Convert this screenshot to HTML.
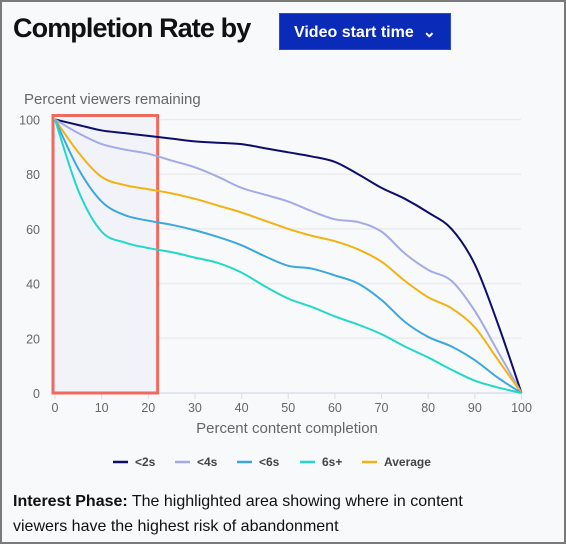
<!DOCTYPE html>
<html><head><meta charset="utf-8"><style>
html,body{margin:0;padding:0;}
body{width:566px;height:544px;overflow:hidden;background:#f8f9fa;font-family:"Liberation Sans",sans-serif;}
#frame{position:absolute;left:0;top:0;width:562px;height:540px;border:2px solid #7a7a7a;background:#f8f9fa;}
#title{position:absolute;left:11px;top:11px;font-size:27px;font-weight:bold;color:#111;letter-spacing:-0.9px;}
#btn{position:absolute;left:277px;top:11px;width:172px;height:37px;background:#0a2bb8;color:#fff;font-size:16px;font-weight:bold;line-height:37px;text-align:center;border:1px solid #2a4ad0;box-sizing:border-box;}
#foot{position:absolute;left:11px;top:487px;font-size:16px;line-height:25px;color:#111;width:475px;}
svg{position:absolute;left:-2px;top:-2px;}
</style></head><body>
<div id="frame">
<div id="title">Completion Rate by</div>
<div id="btn">Video start time &nbsp;⌄</div>
<svg id="chart" width="566" height="544"></svg>
<div id="foot"><b>Interest Phase:</b> The highlighted area showing where in content viewers have the highest risk of abandonment</div>
</div>
<script>
const xTicks=[0,10,20,30,40,50,60,70,80,90,100];
const yTicks=[0,20,40,60,80,100];
const xs=[0,5,10,15,20,25,30,35,40,45,50,55,60,65,70,75,80,85,90,95,100];
const s2=[100,98,96,95,94,93,92,91.5,91,89.5,88,86.5,84.5,80,75,71,66,60,47,25,0];
const s4=[100,95,91,89,87.5,85,82.5,79,75,72.5,70,66.5,63.5,62.5,59,51,45,41,30,15,0];
const s6=[100,82,70,65,63,61.5,59.5,57,54,50,46.5,45.5,43,40,34,26,20.5,17,12,5.5,0];
const s6p=[100,74,59,55,53,51.5,49.5,47.5,44,39,34.5,31.5,28,25,21.5,17,13,8.5,4.5,2,0];
const avg=[100,88,79,76,74.5,73,71,68.5,66,63,60,57.5,55.5,52.5,48,41,35,31,24,12,0];
const names=["<2s","<4s","<6s","6s+","Average"];
const colors=["#0d0d6e","#a3aae8","#3aa8e0","#22d8c8","#f2b312"];
const series=[s2,s4,s6,s6p,avg];
const highlight=[0,22];
const svg=document.getElementById('chart');
const NS='http://www.w3.org/2000/svg';
const X=v=>55+v*4.665, Y=v=>393-v*2.735;
function mk(t,a,p){const e=document.createElementNS(NS,t);for(const k in a)e.setAttribute(k,a[k]);(p||svg).appendChild(e);return e;}
let t=mk('text',{x:24,y:104,'font-size':15,fill:'#666'});t.textContent='Percent viewers remaining';


yTicks.forEach(v=>{
 const l=mk('line',{x1:53,x2:521,y1:Y(v),y2:Y(v),stroke:v?'#ececee':'#dde',"stroke-width":1.5});
 
 
 const tx=mk('text',{x:40,y:Y(v)+5,'text-anchor':'end','font-size':12.5,fill:'#666'});tx.textContent=v;
 
 
});
xTicks.forEach(v=>{
 mk('line',{x1:X(v),x2:X(v),y1:393,y2:399,stroke:'#dde'});
 const tx=mk('text',{x:X(v),y:412,'text-anchor':'middle','font-size':12.5,fill:'#666'});tx.textContent=v;
 
 
});
t=mk('text',{x:287,y:433,'text-anchor':'middle','font-size':15,fill:'#666'});t.textContent='Percent content completion';


const hx=X(highlight[0])-2, hw=X(highlight[1])-X(highlight[0])+2;
const hr=mk('rect',{x:hx,y:Y(100)-4,width:hw,height:Y(0)-Y(100)+4,fill:'#f1f3f9',stroke:'#ef6a5e','stroke-width':3});


function path(vals){
 const p=xs.map((x,i)=>[X(x),Y(vals[i])]);
 let d='M'+p[0][0]+','+p[0][1];
 for(let i=0;i<p.length-1;i++){
  const p0=p[i-1]||p[i],p1=p[i],p2=p[i+1],p3=p[i+2]||p2;
  d+=' C'+(p1[0]+(p2[0]-p0[0])/6)+','+(p1[1]+(p2[1]-p0[1])/6)+' '+(p2[0]-(p3[0]-p1[0])/6)+','+(p2[1]-(p3[1]-p1[1])/6)+' '+p2[0]+','+p2[1];
 }
 return d;
}
[0,1,4,2,3].forEach(i=>{
 const pa=mk('path',{d:path(series[i]),fill:'none',stroke:colors[i],'stroke-width':2});
 
 
});
const lx=[113,175,237,300,362];
names.forEach((n,i)=>{
 const g=mk('g',{});
 
 
 mk('line',{x1:lx[i],x2:lx[i]+15,y1:462,y2:462,stroke:colors[i],'stroke-width':2.5},g);
 const tx=mk('text',{x:lx[i]+22,y:466,'font-size':12,'font-weight':'bold',fill:'#444'},g);tx.textContent=n;
});
</script>
</body></html>
